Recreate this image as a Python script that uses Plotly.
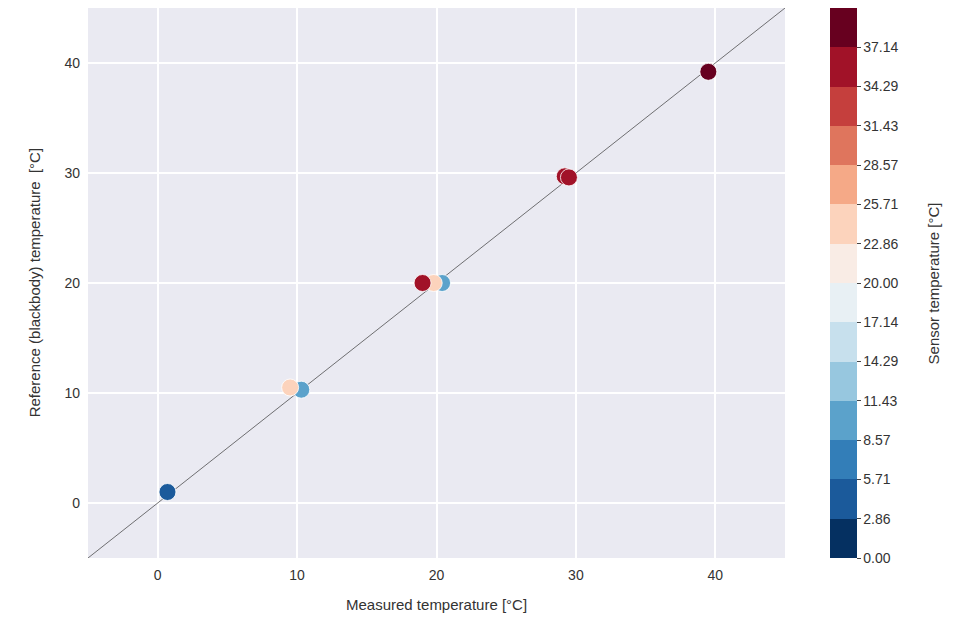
import plotly.graph_objects as go
import plotly.express as px

# ---- data ----
measured = [0.7, 10.3, 9.5, 20.4, 19.8, 19.0, 29.2, 29.5, 39.5]
reference = [1.0, 10.3, 10.5, 20.0, 20.0, 20.0, 29.7, 29.6, 39.2]
sensor = [3.5, 10.0, 24.5, 10.0, 23.5, 35.5, 35.0, 35.5, 38.5]
tick_vals = [i * 40 / 14 for i in range(14)]
tick_text = ["%.2f" % v for v in tick_vals]
axis_ticks = [0, 10, 20, 30, 40]

# discrete colorscale (14 bins of RdBu_r, matplotlib BoundaryNorm style)
nbins = 14
cols = px.colors.sample_colorscale(px.colors.diverging.RdBu_r, [i / (nbins - 1) for i in range(nbins)])
cscale = []
for i, c in enumerate(cols):
    cscale.append([i / nbins, c])
    cscale.append([(i + 1) / nbins, c])

fig = go.Figure()
fig.add_trace(go.Scatter(x=[-5, 45], y=[-5, 45], mode="lines",
                         line=dict(color="rgba(50,50,50,0.85)", width=0.8),
                         showlegend=False, hoverinfo="skip"))
fig.add_trace(go.Scatter(
    x=measured, y=reference, mode="markers", showlegend=False,
    marker=dict(size=17, color=sensor, cmin=0, cmax=40, colorscale=cscale,
                line=dict(color="white", width=0.8),
                colorbar=dict(
                    tickvals=tick_vals, ticktext=tick_text,
                    ticks="outside", ticklen=4, tickcolor="#444",
                    tickfont=dict(size=14, color="#333"),
                    x=1.0646, xanchor="left", y=0.5, yanchor="middle",
                    len=1.0, lenmode="fraction", thickness=27,
                    outlinewidth=0, xpad=0, ypad=0,
                ))))

fig.add_annotation(text="Sensor temperature [°C]", xref="paper", yref="paper",
                   x=1.213, y=0.5, xanchor="center", yanchor="middle",
                   textangle=-90, showarrow=False,
                   font=dict(size=15, color="#333"))
fig.add_annotation(text="Measured temperature [°C]", xref="paper", yref="paper",
                   x=0.5, y=-0.085, xanchor="center", yanchor="middle",
                   showarrow=False, font=dict(size=15, color="#333"))
fig.add_annotation(text="Reference (blackbody) temperature  [°C]", xref="paper", yref="paper",
                   x=-0.077, y=0.5, xanchor="center", yanchor="middle",
                   textangle=-90, showarrow=False, font=dict(size=15, color="#333"))

fig.update_layout(
    width=963, height=618,
    margin=dict(l=80, r=186, t=0, b=68, autoexpand=False),
    paper_bgcolor="white", plot_bgcolor="#EAEAF2",
    font=dict(family="Liberation Sans, Arial, sans-serif", color="#333"),
)
fig.update_xaxes(range=[-5, 45], tickvals=axis_ticks, gridcolor="white", gridwidth=1.5,
                 zeroline=False, showline=False, ticks="", automargin=False,
                 ticklabelstandoff=7,
                 tickfont=dict(size=14, color="#333"))
fig.update_yaxes(range=[-5, 45], tickvals=axis_ticks, gridcolor="white", gridwidth=1.5,
                 zeroline=False, showline=False, ticks="", automargin=False,
                 ticklabelstandoff=7,
                 tickfont=dict(size=14, color="#333"))

fig.write_html("out.html")
